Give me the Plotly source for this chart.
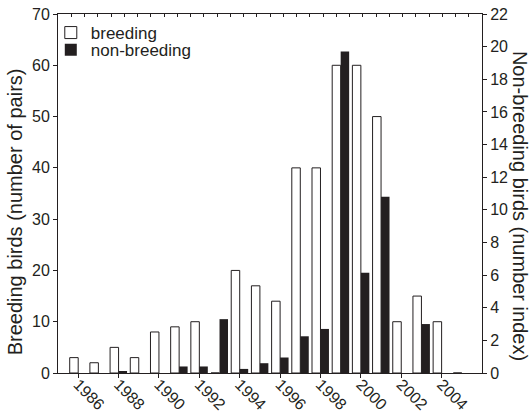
import plotly.graph_objects as go

years = list(range(1986, 2006))
breeding = [3, 2, 5, 3, 8, 9, 10, 0, 20, 17, 14, 40, 40, 60, 60, 50, 10, 15, 10, 0]
non_breeding = [0, 0, 0.1, 0, 0, 0.4, 0.4, 3.3, 0.25, 0.6, 0.95, 2.25, 2.7, 19.7, 6.15, 10.8, 0, 3.0, 0, 0]
x_ticks = list(range(1986, 2005, 2))

INK = "#231f20"
FONT = "Liberation Sans, Arial, sans-serif"
TICK_FONT = dict(family=FONT, size=16, color=INK)
LEG_FONT = dict(family=FONT, size=17, color=INK)
TITLE_FONT = dict(family=FONT, size=20, color=INK)

fig = go.Figure()
fig.add_trace(go.Bar(
    x=years, y=breeding, name="breeding", yaxis="y", legend="legend",
    width=0.42, offset=-0.42,
    marker=dict(color="white", line=dict(color=INK, width=1)),
))
fig.add_trace(go.Bar(
    x=years, y=non_breeding, name="non-breeding", yaxis="y2", legend="legend2",
    width=0.42, offset=0,
    marker=dict(color=INK, line=dict(color=INK, width=0)),
))
# invisible helper trace so the top (decorative tick) axis is drawn
fig.add_trace(go.Scatter(x=[None], y=[None], xaxis="x2", yaxis="y",
                         showlegend=False, hoverinfo="skip"))

axis_common = dict(showgrid=False, zeroline=False, showline=True,
                   linecolor=INK, linewidth=1, tickcolor=INK,
                   tickfont=TICK_FONT, automargin=False)

legend_common = dict(xanchor="left", yanchor="middle", bgcolor="rgba(0,0,0,0)",
                     font=LEG_FONT, itemwidth=30, borderwidth=0)

fig.update_layout(
    width=530, height=413,
    margin=dict(l=58, r=48, t=14, b=40),
    paper_bgcolor="white", plot_bgcolor="white",
    font=dict(family=FONT, size=16, color=INK),
    barmode="overlay",
    showlegend=True,
    legend=dict(x=-0.017, y=0.947, **legend_common),
    legend2=dict(x=-0.017, y=0.899, **legend_common),
    xaxis=dict(range=[1985, 2006], tickmode="array", tickvals=x_ticks,
               ticktext=[str(v) for v in x_ticks], tickangle=45,
               ticks="outside", ticklen=4, ticklabelstandoff=-9, **axis_common),
    xaxis2=dict(overlaying="x", side="top", range=[0, 32], dtick=1,
                ticks="inside", ticklen=3, showticklabels=False, **axis_common),
    yaxis=dict(range=[0, 70], dtick=10, ticks="outside", ticklen=4, **axis_common),
    yaxis2=dict(overlaying="y", side="right", range=[0, 22], dtick=2,
                ticks="outside", ticklen=4, **axis_common),
    annotations=[
        dict(text="Breeding birds (number of pairs)", xref="paper", yref="paper",
             x=-0.101, y=0.448, xanchor="center", yanchor="middle",
             textangle=-90, showarrow=False, font=TITLE_FONT),
        dict(text="Non-breeding birds (number index)", xref="paper", yref="paper",
             x=1.090, y=0.465, xanchor="center", yanchor="middle",
             textangle=90, showarrow=False, font=TITLE_FONT),
    ],
)

fig.write_html("out.html")
